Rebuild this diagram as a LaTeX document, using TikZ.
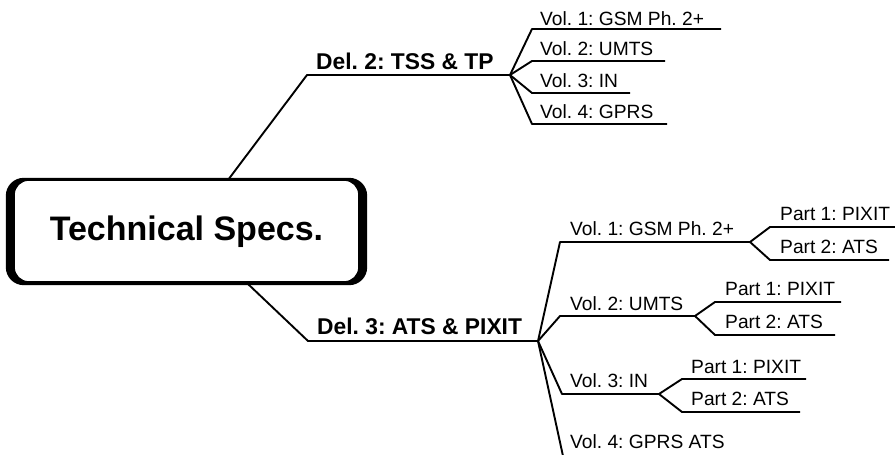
\documentclass[tikz,border=0pt]{standalone}
\usepackage{fontspec}
\setmainfont{Liberation Sans}
\frenchspacing
\begin{document}
\begin{tikzpicture}[x=1pt,y=-1pt,
  conn/.style={line width=1.9pt, line join=round, line cap=butt},
  vlbl/.style={anchor=base west, inner sep=0pt, font=\fontsize{19.2}{21}\selectfont},
  dlbl/.style={anchor=base west, inner sep=0pt, font=\bfseries\fontsize{22.8}{24}\selectfont},
  rootbox/.style={minimum width=361pt, minimum height=107pt, inner sep=0pt, font=\bfseries\fontsize{34}{36}\selectfont}]
\useasboundingbox (0,0) rectangle (895,455);

% root box
\node[rootbox] (spec) at (186.5,231.5) {Technical Specs.};
\fill[even odd rule]
  [rounded corners=18pt] (spec.north west) rectangle (spec.south east)
  [rounded corners=14pt] ([xshift=9pt,yshift=-3pt]spec.north west) rectangle ([xshift=-9pt,yshift=4pt]spec.south east);

% upper deliverable
\coordinate (b2s) at (228,180);
\coordinate (d2k) at (307,75);
\coordinate (d2f) at (510,75);
\node[dlbl] (d2) at (316,69) {Del. 2: TSS \& TP};
\draw[conn] (b2s) -- (d2k) -- (d2f);

\coordinate (u1k) at (532,29);  \coordinate (u1e) at (721,29);
\coordinate (u2k) at (532,61);  \coordinate (u2e) at (665,61);
\coordinate (u3k) at (532,93);  \coordinate (u3e) at (630,93);
\coordinate (u4k) at (532,124); \coordinate (u4e) at (667,124);
\node[vlbl] (u1) at (540,25) {Vol. 1: GSM Ph. 2+};
\node[vlbl] (u2) at (540,55) {Vol. 2: UMTS};
\node[vlbl] (u3) at (540,87) {Vol. 3: IN};
\node[vlbl] (u4) at (540,118) {Vol. 4: GPRS};
\draw[conn] (d2f) -- (u1k) -- (u1e);
\draw[conn] (d2f) -- (u2k) -- (u2e);
\draw[conn] (d2f) -- (u3k) -- (u3e);
\draw[conn] (d2f) -- (u4k) -- (u4e);

% lower deliverable
\coordinate (b3s) at (248,284);
\coordinate (d3k) at (308,341);
\coordinate (d3f) at (538,341);
\node[dlbl] (d3) at (317,334) {Del. 3: ATS \& PIXIT};
\draw[conn] (b3s) -- (d3k) -- (d3f);

\coordinate (l1k) at (560,242); \coordinate (l1e) at (750,242);
\coordinate (l2k) at (560,316); \coordinate (l2e) at (695,316);
\coordinate (l3k) at (562,394); \coordinate (l3e) at (659,394);
\coordinate (l4e) at (563,456);
\node[vlbl] (l1) at (570,235) {Vol. 1: GSM Ph. 2+};
\node[vlbl] (l2) at (570,310) {Vol. 2: UMTS};
\node[vlbl] (l3) at (570,387) {Vol. 3: IN};
\node[vlbl] (l4) at (570,448) {Vol. 4: GPRS ATS};
\draw[conn] (d3f) -- (l1k) -- (l1e);
\draw[conn] (d3f) -- (l2k) -- (l2e);
\draw[conn] (d3f) -- (l3k) -- (l3e);
\draw[conn] (d3f) -- (l4e);

% parts of vol 1
\coordinate (p11k) at (770,227); \coordinate (p11e) at (895,227);
\coordinate (p12k) at (770,260); \coordinate (p12e) at (889,260);
\node[vlbl] (p11) at (780,220) {Part 1: PIXIT};
\node[vlbl] (p12) at (780,253) {Part 2: ATS};
\draw[conn] (l1e) -- (p11k) -- (p11e);
\draw[conn] (l1e) -- (p12k) -- (p12e);

% parts of vol 2
\coordinate (p21k) at (715,302); \coordinate (p21e) at (841,302);
\coordinate (p22k) at (715,335); \coordinate (p22e) at (835,335);
\node[vlbl] (p21) at (725,295) {Part 1: PIXIT};
\node[vlbl] (p22) at (725,328) {Part 2: ATS};
\draw[conn] (l2e) -- (p21k) -- (p21e);
\draw[conn] (l2e) -- (p22k) -- (p22e);

% parts of vol 3
\coordinate (p31k) at (682,379); \coordinate (p31e) at (806,379);
\coordinate (p32k) at (682,412); \coordinate (p32e) at (800,412);
\node[vlbl] (p31) at (691,373) {Part 1: PIXIT};
\node[vlbl] (p32) at (691,405) {Part 2: ATS};
\draw[conn] (l3e) -- (p31k) -- (p31e);
\draw[conn] (l3e) -- (p32k) -- (p32e);
\end{tikzpicture}
\end{document}
